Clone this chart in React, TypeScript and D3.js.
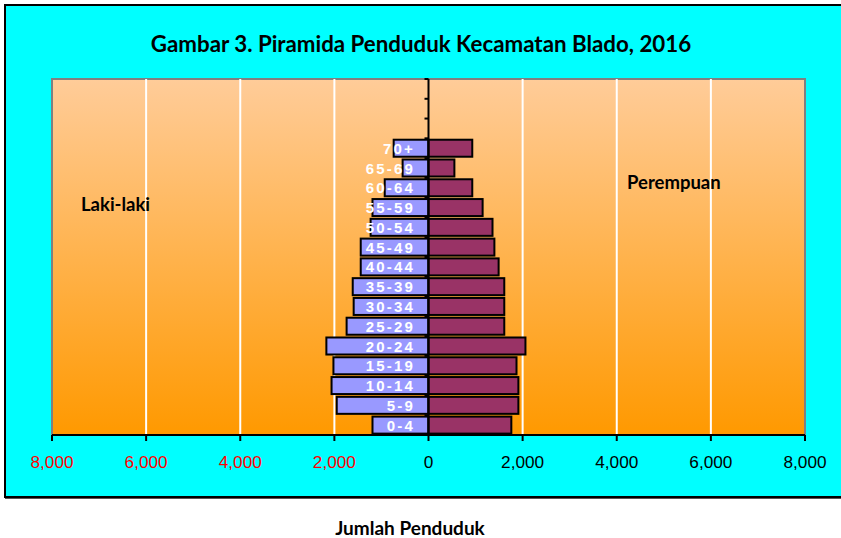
import React from "react";
import * as d3 from "d3";

const categories = ["0-4", "5-9", "10-14", "15-19", "20-24", "25-29", "30-34", "35-39", "40-44", "45-49", "50-54", "55-59", "60-64", "65-69", "70+", "", " ", "  "];
const male = [1190, 1950, 2060, 2020, 2170, 1740, 1590, 1610, 1440, 1440, 1230, 1190, 930, 550, 740, 0, 0, 0];
const female = [1760, 1910, 1910, 1870, 2060, 1610, 1610, 1610, 1490, 1400, 1360, 1150, 930, 550, 930, 0, 0, 0];
const ticks = [-8000, -6000, -4000, -2000, 0, 2000, 4000, 6000, 8000];
const title = "Gambar 3. Piramida Penduduk Kecamatan Blado, 2016";
const maleLabel = "Laki-laki";
const femaleLabel = "Perempuan";
const xTitle = "Jumlah Penduduk";

export default function App() {
  const W = 841, H = 538;
  const left = 52, right = 805, top = 79, bottom = 435;
  const x = d3.scaleLinear().domain([-8000, 8000]).range([left, right]);
  const y = d3.scaleBand<string>().domain(categories).range([bottom, top]).paddingInner(0.14).paddingOuter(0.07);
  const x0 = x(0);
  const fmt = d3.format(",");
  const step = y.step();
  const boundaries = d3.range(categories.length + 1).map((i) => bottom - i * step);
  const calibri = "Lato, 'Open Sans', sans-serif";
  const arial = "'Liberation Sans', Arial, sans-serif";

  return (
    <svg width={W} height={H} style={{ position: "absolute", left: 0, top: 0 }}>
      <defs>
        <linearGradient id="pa" x1="0" y1="0" x2="0" y2="1">
          <stop offset="0%" stopColor="#FFCC99" />
          <stop offset="100%" stopColor="#FF9900" />
        </linearGradient>
      </defs>
      <rect x={0} y={0} width={W} height={H} fill="#fff" />
      <rect x={5} y={5} width={850} height={492} fill="#00FFFF" stroke="#000" strokeWidth={2} />
      <line x1={5} x2={850} y1={498.5} y2={498.5} stroke="#555" strokeWidth={1} />
      <text x={421} y={52} textAnchor="middle" fontFamily={calibri} fontWeight="bold" fontSize={22.3}>{title}</text>

      <rect x={left} y={top} width={right - left} height={bottom - top} fill="url(#pa)" stroke="#808080" strokeWidth={2} />
      {ticks.filter((t) => t !== 0 && Math.abs(t) !== 8000).map((t) => (
        <line key={"g" + t} x1={x(t)} x2={x(t)} y1={top} y2={bottom} stroke="#fff" strokeWidth={2} />
      ))}

      {categories.map((c, i) => {
        const yy = y(c)!;
        const bh = y.bandwidth();
        return (
          <g key={"b" + i}>
            {male[i] > 0 && (
              <rect x={x(-male[i])} y={yy} width={x0 - x(-male[i])} height={bh} fill="#9999FF" stroke="#000" strokeWidth={2} />
            )}
            {female[i] > 0 && (
              <rect x={x0} y={yy} width={x(female[i]) - x0} height={bh} fill="#993366" stroke="#000" strokeWidth={2} />
            )}
          </g>
        );
      })}

      <line x1={x0} x2={x0} y1={top} y2={bottom} stroke="#000" strokeWidth={2} />
      {boundaries.map((b, i) => (
        <line key={"t" + i} x1={x0 - 4} x2={x0} y1={b} y2={b} stroke="#000" strokeWidth={2} />
      ))}

      {categories.map((c, i) => c.trim() && (
        <text key={"l" + i} x={415} y={y(c)! + y.bandwidth() / 2 + 5.5} textAnchor="end" fill="#fff" fontFamily={arial} fontWeight="bold" fontSize={15} letterSpacing={2.2}>{c}</text>
      ))}

      <line x1={left} x2={right} y1={bottom} y2={bottom} stroke="#000" strokeWidth={2} />
      {ticks.map((t) => (
        <g key={"x" + t}>
          <line x1={x(t)} x2={x(t)} y1={bottom} y2={bottom + 6} stroke="#000" strokeWidth={2} />
          <text x={x(t)} y={468} textAnchor="middle" fontFamily={arial} fontSize={17.2} fill={t < 0 ? "#FF0000" : "#000"}>{fmt(Math.abs(t))}</text>
        </g>
      ))}

      <text x={81} y={211} fontFamily={calibri} fontWeight="bold" fontSize={18.5}>{maleLabel}</text>
      <text x={627} y={189} fontFamily={calibri} fontWeight="bold" fontSize={18.5}>{femaleLabel}</text>
      <text x={410} y={535} textAnchor="middle" fontFamily={calibri} fontWeight="bold" fontSize={19}>{xTitle}</text>
    </svg>
  );
}
